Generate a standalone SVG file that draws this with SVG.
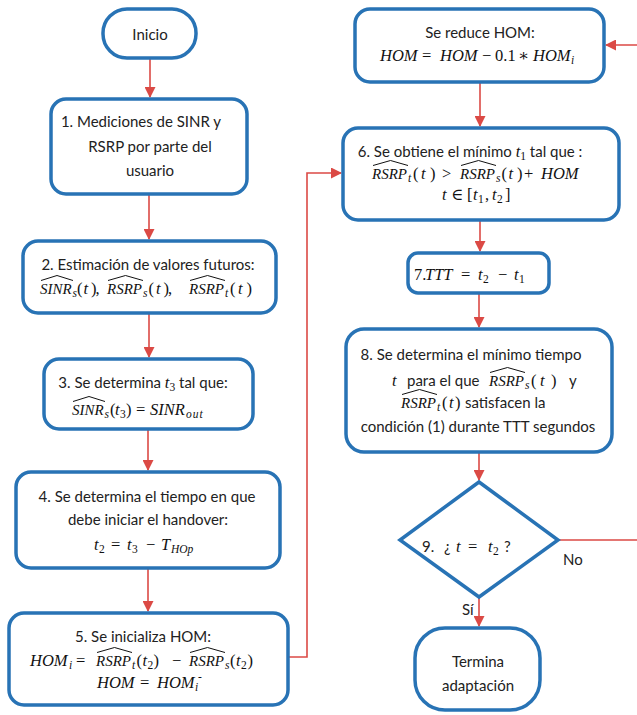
<svg xmlns="http://www.w3.org/2000/svg" width="637" height="715" viewBox="0 0 637 715">
<defs>
<style>
.box{fill:#fff;stroke:#2873B5;stroke-width:3.5}
.con{fill:none;stroke:#DB4A45;stroke-width:1.6}
.b{font-family:Lato,"Liberation Sans",sans-serif;font-size:15px;fill:#222}
.m{font-family:"Liberation Serif","DejaVu Serif",serif;font-style:italic;font-size:16.5px;fill:#111}
.bt{font-family:Lato,"Liberation Sans",sans-serif;font-style:normal;font-size:15px;fill:#222}
.r{font-style:normal}
.s{font-size:11.5px}
.hw{font-size:15px}
.hat{fill:none;stroke:#111;stroke-width:1}
.c{text-anchor:middle}
</style>
<marker id="ah" markerUnits="userSpaceOnUse" markerWidth="11" markerHeight="11" refX="10" refY="5.5" orient="auto">
<path d="M0,0 L11,5.5 L0,11 Z" fill="#DB4A45"/>
</marker>
</defs>
<rect width="637" height="715" fill="#fff"/>

<g id="connectors">
<path class="con" d="M150,58 V97" marker-end="url(#ah)"/>
<path class="con" d="M149,194 V239" marker-end="url(#ah)"/>
<path class="con" d="M149,313 V357" marker-end="url(#ah)"/>
<path class="con" d="M148,429 V470" marker-end="url(#ah)"/>
<path class="con" d="M148,568 V611" marker-end="url(#ah)"/>
<path class="con" d="M289,657 H307 V173 H341" marker-end="url(#ah)"/>
<path class="con" d="M480,82 V126" marker-end="url(#ah)"/>
<path class="con" d="M480,220 V251" marker-end="url(#ah)"/>
<path class="con" d="M479,293 V327" marker-end="url(#ah)"/>
<path class="con" d="M479,452 V480" marker-end="url(#ah)"/>
<path class="con" d="M479,597 V626" marker-end="url(#ah)"/>
<path class="con" d="M558,540 H660 V45 H606" marker-end="url(#ah)"/>
<text class="b" x="563" y="565">No</text>
<text class="b" x="462" y="615">Sí</text>
</g>

<g id="inicio">
<rect class="box" x="103" y="9" width="93" height="49" rx="24"/>
<text class="b c" x="150" y="40">Inicio</text>
</g>

<g id="paso1">
<rect class="box" x="51" y="99" width="196" height="95" rx="15"/>
<text class="b c" x="141" y="127">1. Mediciones de SINR y</text>
<text class="b c" x="150" y="152">RSRP por parte del</text>
<text class="b c" x="150" y="176">usuario</text>
</g>

<g id="paso2">
<rect class="box" x="23" y="241" width="253" height="72" rx="15"/>
<text class="b c" x="148" y="270">2. Estimación de valores futuros:</text>
<text class="m" y="294"><tspan class="hw" x="40">SINR</tspan><tspan class="s" x="72.5" y="297">s</tspan><tspan class="r" x="77" y="294">(</tspan><tspan x="83.5">t</tspan><tspan class="r" x="91">)</tspan><tspan class="r" x="95.5">,</tspan><tspan class="hw" x="107">RSRP</tspan><tspan class="s" x="143" y="297">s</tspan><tspan class="r" x="148.5" y="294">(</tspan><tspan x="156">t</tspan><tspan class="r" x="163.5">)</tspan><tspan class="r" x="168">,</tspan><tspan class="hw" x="189">RSRP</tspan><tspan class="s" x="225" y="297">t</tspan><tspan class="r" x="230" y="294">(</tspan><tspan x="238">t</tspan><tspan class="r" x="246.5">)</tspan></text>
<path class="hat" d="M41,280.5 L57,275.5 L73,280.5"/>
<path class="hat" d="M108,280.5 L125.5,275.5 L143,280.5"/>
<path class="hat" d="M190,280.5 L207.5,275.5 L225,280.5"/>
</g>

<g id="paso3">
<rect class="box" x="44" y="359" width="209" height="70" rx="15"/>
<text class="b c" x="143" y="388">3. Se determina <tspan class="m">t</tspan><tspan class="m r s" dy="3">3</tspan><tspan dy="-3"> tal que:</tspan></text>
<text class="m" y="415"><tspan class="hw" x="72">SINR</tspan><tspan class="s" x="104.5" y="418">s</tspan><tspan class="r" x="110" y="415">(</tspan><tspan x="115">t</tspan><tspan class="r s" x="120" y="418">3</tspan><tspan class="r" x="126" y="415">)</tspan><tspan class="r" x="136">=</tspan><tspan x="150">SINR</tspan><tspan class="s" x="186" y="418" style="letter-spacing:1px">out</tspan></text>
<path class="hat" d="M73,401.5 L89,396.5 L105,401.5"/>
</g>

<g id="paso4">
<rect class="box" x="16" y="472" width="264" height="96" rx="15"/>
<text class="b c" x="147" y="502">4. Se determina el tiempo en que</text>
<text class="b c" x="148" y="525">debe iniciar el handover:</text>
<text class="m" y="550"><tspan x="94">t</tspan><tspan class="r s" x="99" y="553">2</tspan><tspan class="r" x="111" y="550">=</tspan><tspan x="127">t</tspan><tspan class="r s" x="132" y="553">3</tspan><tspan class="r" x="146" y="550">−</tspan><tspan x="161">T</tspan><tspan class="s" x="171" y="553">HOp</tspan></text>
</g>

<g id="paso5">
<rect class="box" x="9" y="613" width="279" height="92" rx="15"/>
<text class="b c" x="143" y="642">5. Se inicializa HOM:</text>
<text class="m" y="666"><tspan x="30">HOM</tspan><tspan class="s" x="69" y="669">i</tspan><tspan class="r" x="76" y="666">=</tspan><tspan class="hw" x="96">RSRP</tspan><tspan class="s" x="132" y="669">t</tspan><tspan class="r" x="136.5" y="666">(</tspan><tspan x="142.5">t</tspan><tspan class="r s" x="147.5" y="669">2</tspan><tspan class="r" x="153.5" y="666">)</tspan><tspan class="r" x="172">−</tspan><tspan class="hw" x="189">RSRP</tspan><tspan class="s" x="225" y="669">s</tspan><tspan class="r" x="230" y="666">(</tspan><tspan x="236">t</tspan><tspan class="r s" x="241" y="669">2</tspan><tspan class="r" x="247.5" y="666">)</tspan></text>
<path class="hat" d="M97,652.5 L114.5,647.5 L132,652.5"/>
<path class="hat" d="M190,652.5 L207.5,647.5 L225,652.5"/>
<text class="m" y="688"><tspan x="97">HOM</tspan><tspan class="r" x="140">=</tspan><tspan x="157">HOM</tspan><tspan class="s" x="195" y="691">i</tspan><tspan class="r s" x="198" y="680">-</tspan></text>
</g>

<g id="reduce">
<rect class="box" x="355" y="9" width="249" height="73" rx="15"/>
<text class="b c" x="480" y="38">Se reduce HOM:</text>
<text class="m" y="61"><tspan x="380">HOM</tspan><tspan class="r" x="422">=</tspan><tspan x="440">HOM</tspan><tspan class="r" x="482">−</tspan><tspan class="r" x="495">0.1</tspan><tspan class="r" x="518">∗</tspan><tspan x="533">HOM</tspan><tspan class="s" x="571" y="64">i</tspan></text>
</g>

<g id="paso6">
<rect class="box" x="343" y="128" width="276" height="92" rx="15"/>
<text class="b c" x="470" y="157">6. Se obtiene el mínimo  <tspan class="m">t</tspan><tspan class="m r s" dy="3">1</tspan><tspan dy="-3">  tal que :</tspan></text>
<text class="m" y="179"><tspan class="hw" x="372">RSRP</tspan><tspan class="s" x="408" y="182">t</tspan><tspan class="r" x="413" y="179">(</tspan><tspan x="421">t</tspan><tspan class="r" x="430">)</tspan><tspan class="r" x="442">&gt;</tspan><tspan class="hw" x="460">RSRP</tspan><tspan class="s" x="496" y="182">s</tspan><tspan class="r" x="501.5" y="179">(</tspan><tspan x="508.5">t</tspan><tspan class="r" x="517">)</tspan><tspan class="r" x="524">+</tspan><tspan x="541">HOM</tspan></text>
<path class="hat" d="M373,165.5 L390.5,160.5 L408,165.5"/>
<path class="hat" d="M461,165.5 L478.5,160.5 L496,165.5"/>
<text class="m" y="200"><tspan x="442">t</tspan><tspan class="r" x="451">∈</tspan><tspan class="r" x="467">[</tspan><tspan x="473">t</tspan><tspan class="r s" x="478" y="203">1</tspan><tspan class="r" x="485" y="200">,</tspan><tspan x="492">t</tspan><tspan class="r s" x="497" y="203">2</tspan><tspan class="r" x="505" y="200">]</tspan></text>
</g>

<g id="paso7">
<rect class="box" x="408" y="253" width="141" height="40" rx="10"/>
<text class="m" y="280"><tspan class="r" x="414">7.</tspan><tspan x="425">TTT</tspan><tspan class="r" x="461">=</tspan><tspan x="478">t</tspan><tspan class="r s" x="483" y="283">2</tspan><tspan class="r" x="498" y="280">−</tspan><tspan x="514">t</tspan><tspan class="r s" x="519" y="283">1</tspan></text>
</g>

<g id="paso8">
<rect class="box" x="346" y="329" width="266" height="123" rx="18"/>
<text class="b c" x="471" y="360">8. Se determina el mínimo tiempo</text>
<text class="m" y="386"><tspan x="392">t</tspan><tspan class="bt" x="407">para el que</tspan><tspan class="hw" x="489">RSRP</tspan><tspan class="s" x="525" y="389">s</tspan><tspan class="r" x="531" y="386">(</tspan><tspan x="540">t</tspan><tspan class="r" x="551">)</tspan><tspan class="bt" x="569">y</tspan></text>
<path class="hat" d="M490,372.5 L507.5,367.5 L525,372.5"/>
<text class="m" y="408"><tspan class="hw" x="401">RSRP</tspan><tspan class="s" x="437" y="411">t</tspan><tspan class="r" x="442" y="408">(</tspan><tspan x="449">t</tspan><tspan class="r" x="455">)</tspan><tspan class="bt" x="465">satisfacen la</tspan></text>
<path class="hat" d="M402,394.5 L419.5,389.5 L437,394.5"/>
<text class="b c" x="478" y="432">condición (1) durante TTT segundos</text>
</g>

<g id="paso9">
<polygon class="box" points="479,482 558,540 479,597 400,540"/>
<text class="m" y="552"><tspan class="bt" x="422">9.</tspan><tspan class="bt" x="444">¿</tspan><tspan x="456">t</tspan><tspan class="r" x="468">=</tspan><tspan x="488">t</tspan><tspan class="r s" x="493" y="555">2</tspan><tspan class="bt" x="504" y="552">?</tspan></text>
</g>

<g id="termina">
<rect class="box" x="415" y="628" width="125" height="82" rx="30"/>
<text class="b c" x="478" y="667">Termina</text>
<text class="b c" x="478" y="691">adaptación</text>
</g>
</svg>
